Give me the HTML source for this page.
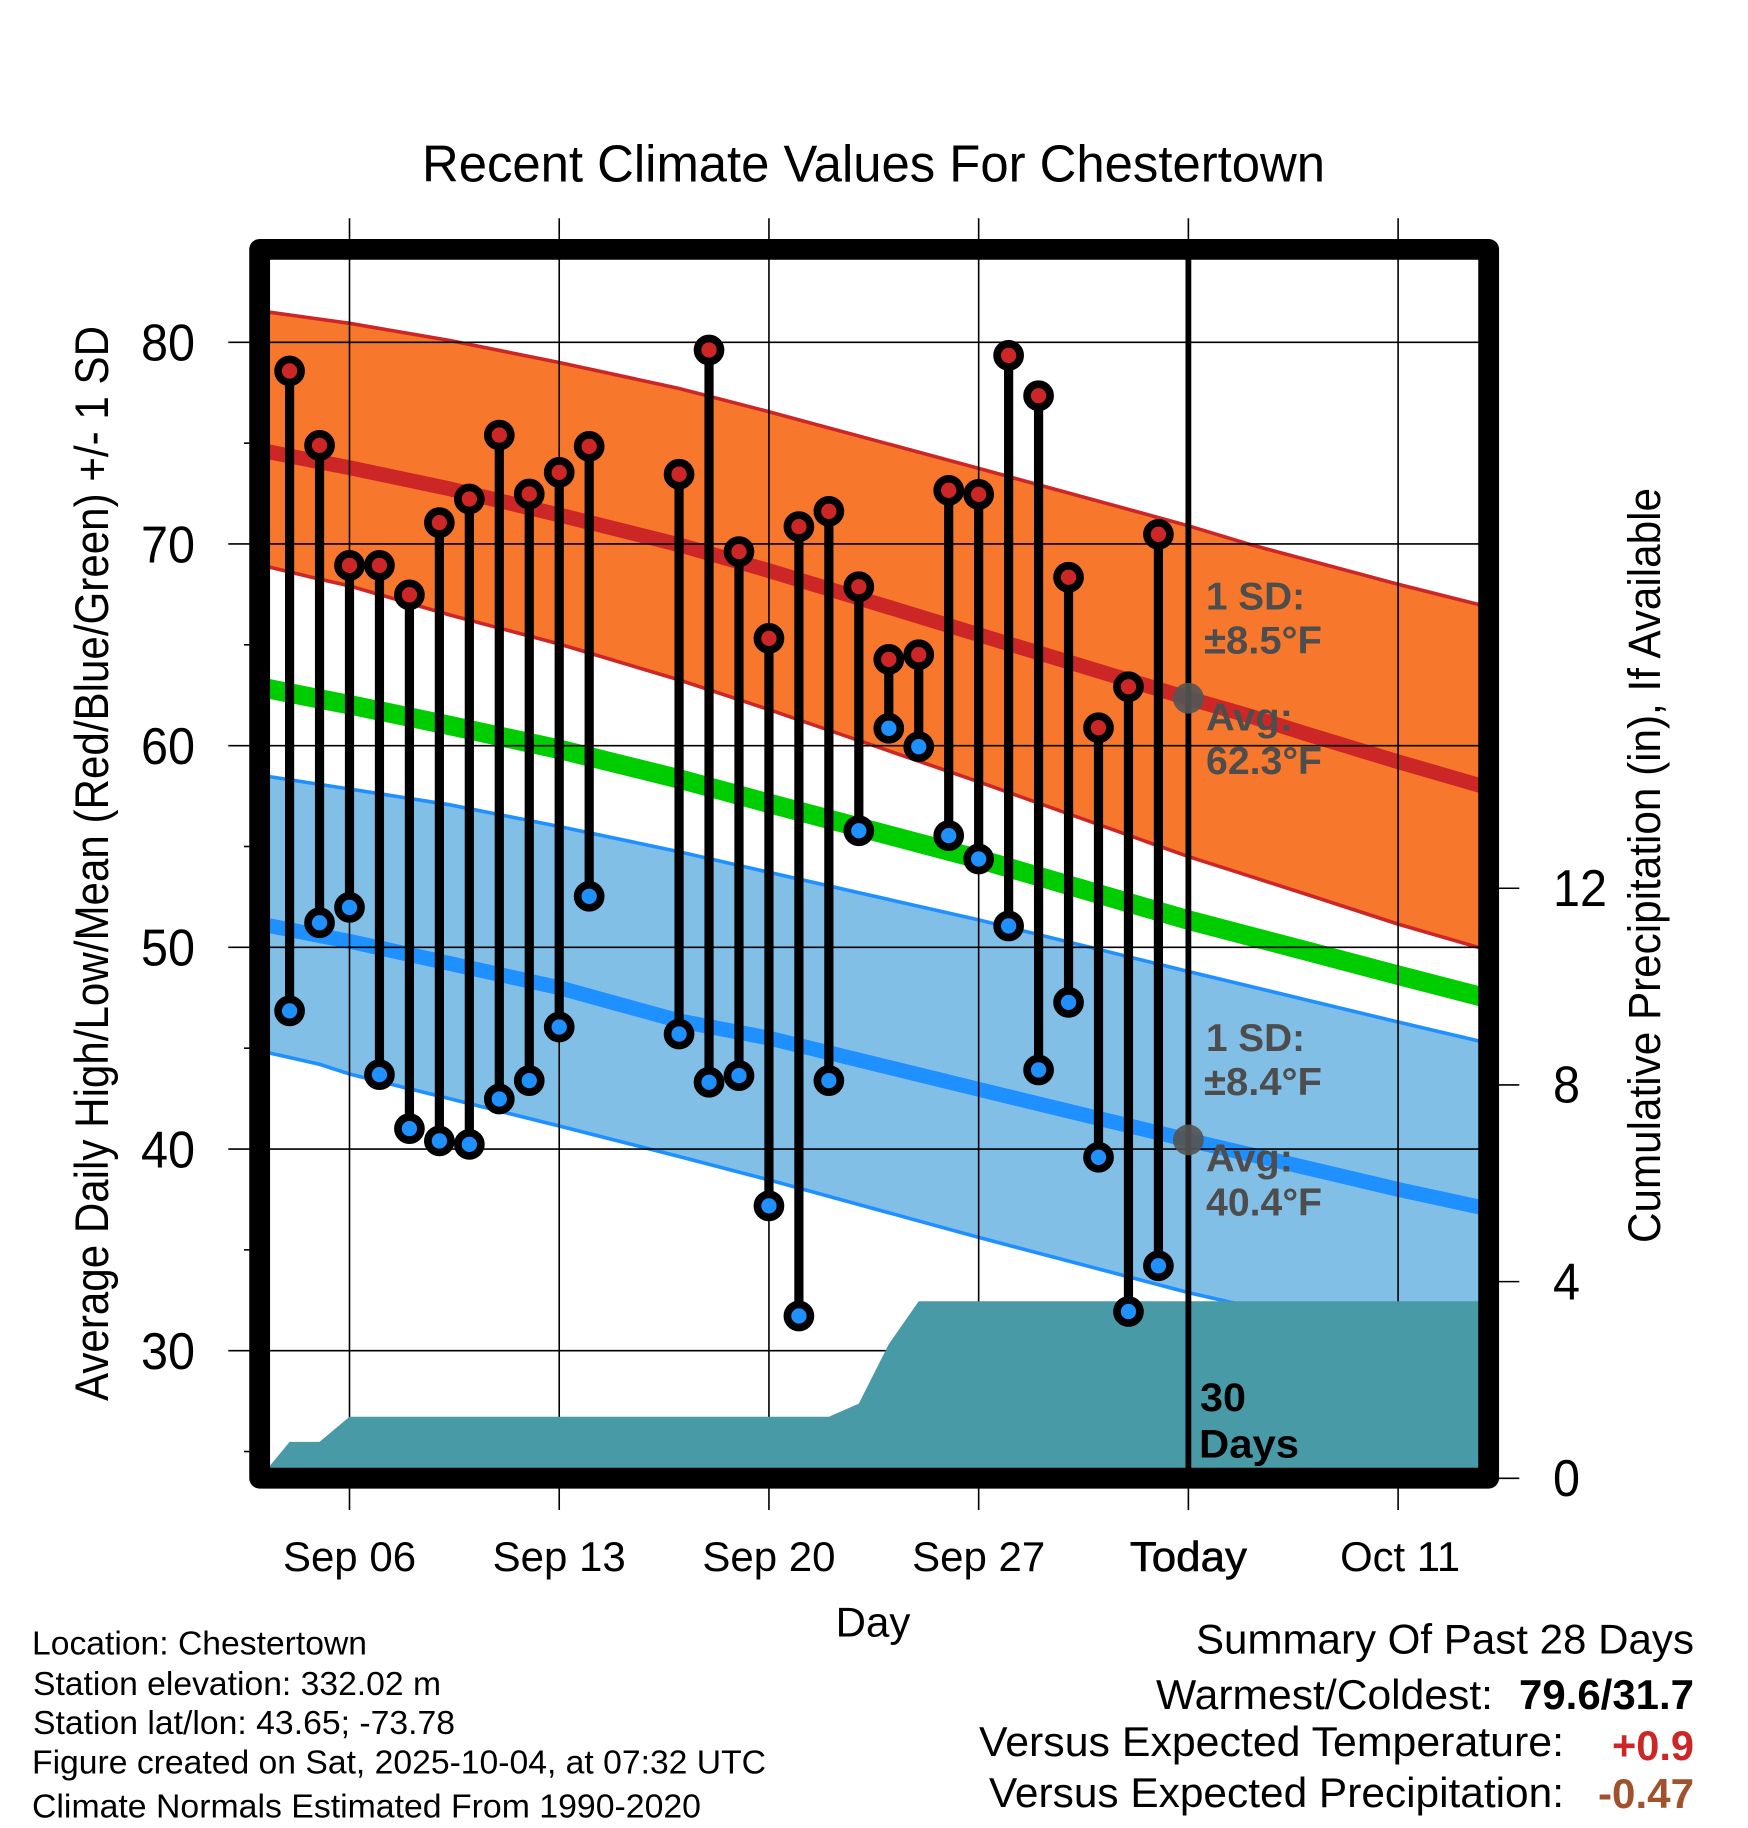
<!DOCTYPE html>
<html lang="en">
<head>
<meta charset="utf-8">
<title>Recent Climate Values For Chestertown</title>
<style>
html,body{margin:0;padding:0;background:#fff;}
svg{display:block;}
text{font-family:"Liberation Sans",Arial,sans-serif;}
.note{font-weight:bold;fill:#4d4d4d;font-size:39px;}
.foot{font-size:33.5px;fill:#000;}
.sum{font-size:42px;fill:#000;}
</style>
</head>
<body>
<svg id="chart" xmlns="http://www.w3.org/2000/svg" width="1748" height="1828" viewBox="0 0 1748 1828">
  <rect x="0" y="0" width="1748" height="1828" fill="#fff"/>
  <g id="bands"></g>
  <g id="grid"></g>
  <g id="precip"></g>
  <g id="obs"></g>
  <g id="today"></g>
  <g id="axes"></g>

  <text x="422" y="181.7" font-size="52" textLength="903" lengthAdjust="spacingAndGlyphs">Recent Climate Values For Chestertown</text>
  <text x="108" y="863.5" font-size="47" text-anchor="middle" textLength="1075" lengthAdjust="spacingAndGlyphs" transform="rotate(-90 108 863.5)">Average Daily High/Low/Mean (Red/Blue/Green) +/- 1 SD</text>
  <text x="1660" y="865.5" font-size="45" text-anchor="middle" textLength="755" lengthAdjust="spacingAndGlyphs" transform="rotate(-90 1660 865.5)">Cumulative Precipitation (in), If Available</text>
  <text x="873" y="1636.5" font-size="42" text-anchor="middle">Day</text>

  <text class="note" x="1206" y="609.3" textLength="99" lengthAdjust="spacingAndGlyphs">1 SD:</text>
  <text class="note" x="1204" y="653.3" textLength="118" lengthAdjust="spacingAndGlyphs">±8.5°F</text>
  <text class="note" x="1206" y="730.7" textLength="87" lengthAdjust="spacingAndGlyphs">Avg:</text>
  <text class="note" x="1206" y="774" textLength="116" lengthAdjust="spacingAndGlyphs">62.3°F</text>
  <text class="note" x="1206" y="1051" textLength="99" lengthAdjust="spacingAndGlyphs">1 SD:</text>
  <text class="note" x="1204" y="1095" textLength="118" lengthAdjust="spacingAndGlyphs">±8.4°F</text>
  <text class="note" x="1206" y="1171.7" textLength="87" lengthAdjust="spacingAndGlyphs">Avg:</text>
  <text class="note" x="1206" y="1215.7" textLength="116" lengthAdjust="spacingAndGlyphs">40.4°F</text>
  <text x="1200" y="1411" font-size="40" font-weight="bold" textLength="46" lengthAdjust="spacingAndGlyphs">30</text>
  <text x="1199" y="1457.7" font-size="40" font-weight="bold" textLength="100" lengthAdjust="spacingAndGlyphs">Days</text>

  <text class="foot" x="32" y="1654.3" textLength="335" lengthAdjust="spacingAndGlyphs">Location: Chestertown</text>
  <text class="foot" x="33" y="1695" textLength="408" lengthAdjust="spacingAndGlyphs">Station elevation: 332.02 m</text>
  <text class="foot" x="33" y="1734" textLength="422" lengthAdjust="spacingAndGlyphs">Station lat/lon: 43.65; -73.78</text>
  <text class="foot" x="32" y="1773.3" textLength="734" lengthAdjust="spacingAndGlyphs">Figure created on Sat, 2025-10-04, at 07:32 UTC</text>
  <text class="foot" x="32" y="1817.7" textLength="669" lengthAdjust="spacingAndGlyphs">Climate Normals Estimated From 1990-2020</text>

  <text class="sum" x="1196" y="1653.3" textLength="498" lengthAdjust="spacingAndGlyphs">Summary Of Past 28 Days</text>
  <text class="sum" x="1156" y="1709" textLength="337" lengthAdjust="spacingAndGlyphs">Warmest/Coldest:</text>
  <text class="sum" x="1519" y="1709" font-weight="bold" textLength="175" lengthAdjust="spacingAndGlyphs">79.6/31.7</text>
  <text class="sum" x="979" y="1756" textLength="585" lengthAdjust="spacingAndGlyphs">Versus Expected Temperature:</text>
  <text class="sum" x="1612" y="1760" font-weight="bold" style="fill:#cd2626" textLength="82" lengthAdjust="spacingAndGlyphs">+0.9</text>
  <text class="sum" x="989" y="1807" textLength="575" lengthAdjust="spacingAndGlyphs">Versus Expected Precipitation:</text>
  <text class="sum" x="1598" y="1808" font-weight="bold" style="fill:#a0522d" textLength="96" lengthAdjust="spacingAndGlyphs">-0.47</text>
</svg>

<script>
// Days are counted from Sep 06 = 0.
const obsDays = [-2,-1,0,1,2,3,4,5,6,7,8,9,10,11,12,13,14,15,16,17,18,19,20,21,22,23,24,25,26,27];
const highs = [78.58,74.89,68.94,68.94,67.48,71.06,72.23,75.40,72.48,73.55,74.84,null,null,73.46,79.62,69.62,65.32,70.86,71.62,67.88,64.28,64.51,72.66,72.46,79.35,77.35,68.35,60.89,62.92,70.48];
const lows = [46.85,51.22,51.98,43.69,41.01,40.40,40.23,42.48,43.39,46.05,52.53,null,null,45.70,43.31,43.64,37.18,31.72,43.39,55.78,60.86,59.95,55.54,54.38,51.06,43.92,47.27,39.59,31.94,34.21];

const normalDays = [-3,-1,0,3.35,7,11,14,21,28,30,32,35,38];
const highUpper = [81.56,81.15,80.94,80.09,79.0,77.71,76.56,73.75,70.9,70.0,69.2,68.0,66.88];
const highMean = [74.66,74.07,73.78,72.73,71.44,69.96,68.68,65.5,62.35,61.49,60.56,59.2,57.91];
const highLower = [68.97,68.26,67.92,66.48,65.04,63.26,61.79,58.21,54.5,53.55,52.6,51.15,49.86];
const lowUpper = [58.54,58.08,57.85,57.07,55.99,54.74,53.72,51.36,48.8,48.09,47.37,46.3,45.25];
const lowMean = [51.17,50.58,50.3,49.2,48.0,46.36,45.5,42.96,40.44,39.75,39.05,38.0,37.03];
const lowLower = [44.87,44.2,43.72,42.49,41.14,39.63,38.47,35.62,32.88,32.2,31.4,30.1,28.87];
const meanTemp = [62.91,62.32,62.03,61.0,59.82,58.35,57.14,54.38,51.35,50.57,49.8,48.62,47.47];

const precipDays = [-3,-2,-1,0,16,17,18,19,38];
const precipValues = [0,0.74,0.74,1.25,1.25,1.52,2.73,3.6,3.6];

const todayDay = 28;
const todayHigh = 62.35;
const todayLow = 40.45;

const xTickDays = [0,7,14,21,28,35];
const xTickLabels = ['Sep 06','Sep 13','Sep 20','Sep 27','Today','Oct 11'];
const yTicks = [30,40,50,60,70,80];
const yMinorTicks = [25,35,45,55,65,75];
const precipTicks = [0,4,8,12];

function xAt(d){ return 349.5 + d * 29.96; }
function yAt(t){ return 342.3 + (80 - t) * 20.168; }
function pAt(p){ return 1478.3 - p * 49.17; }

const NS = 'http://www.w3.org/2000/svg';
function add(parent, tag, attrs){
  const el = document.createElementNS(NS, tag);
  for (const k in attrs) el.setAttribute(k, attrs[k]);
  parent.appendChild(el);
  return el;
}
function pts(days, vals, f){
  return days.map(function(d,i){ return xAt(d).toFixed(1) + ',' + f(vals[i]).toFixed(1); });
}

const bands = document.getElementById('bands');
const grid = document.getElementById('grid');
const precip = document.getElementById('precip');
const obs = document.getElementById('obs');
const today = document.getElementById('today');
const axes = document.getElementById('axes');

function drawBand(upper, lower, fill, edge){
  const up = pts(normalDays, upper, yAt);
  const lo = pts(normalDays, lower, yAt);
  const poly = add(bands, 'polygon', {points: up.concat(lo.slice().reverse()).join(' '), fill: fill, stroke: 'none'});
  
  
  const a = add(bands, 'polyline', {points: up.join(' '), fill: 'none', stroke: edge, 'stroke-width': 3.6});
  
  
  const b = add(bands, 'polyline', {points: lo.join(' '), fill: 'none', stroke: edge, 'stroke-width': 3.6});
  
  
}
drawBand(highUpper, highLower, '#f7782c', '#cd2626');
drawBand(lowUpper, lowLower, '#82bfe7', '#1e90ff');

function drawMean(vals, color, width){
  const l = add(bands, 'polyline', {points: pts(normalDays, vals, yAt).join(' '), fill: 'none', stroke: color, 'stroke-width': width});
  
  
}
drawMean(highMean, '#cd2626', 14.8);
drawMean(meanTemp, '#00cd00', 19.5);
drawMean(lowMean, '#1e90ff', 14.8);

xTickDays.forEach(function(d){
  const l = add(grid, 'line', {x1: xAt(d), x2: xAt(d), y1: 218.3, y2: 1510, stroke: '#000', 'stroke-width': 1.6});
  
  
});
yTicks.forEach(function(t){
  const l = add(grid, 'line', {x1: 228.3, x2: 1480, y1: yAt(t), y2: yAt(t), stroke: '#000', 'stroke-width': 1.6});
  
  
});

const pPts = pts(precipDays, precipValues, pAt);
pPts.push(xAt(precipDays[precipDays.length-1]).toFixed(1) + ',' + pAt(0).toFixed(1));
const pArea = add(precip, 'polygon', {points: pPts.join(' '), fill: '#499aa7'});



obsDays.forEach(function(d,i){
  if (highs[i] === null || lows[i] === null) return;
  const s = add(obs, 'line', {x1: xAt(d), x2: xAt(d), y1: yAt(highs[i]), y2: yAt(lows[i]), stroke: '#000', 'stroke-width': 9.2});
  
  
});
obsDays.forEach(function(d,i){
  if (highs[i] === null || lows[i] === null) return;
  const hi = add(obs, 'circle', {cx: xAt(d), cy: yAt(highs[i]), r: 11.5, fill: '#cd2626', stroke: '#000', 'stroke-width': 7.7});
  
  
  const lo = add(obs, 'circle', {cx: xAt(d), cy: yAt(lows[i]), r: 11.5, fill: '#1e90ff', stroke: '#000', 'stroke-width': 7.7});
  
  
});

const tLine = add(today, 'line', {x1: xAt(todayDay), x2: xAt(todayDay), y1: 255, y2: 1475, stroke: '#000', 'stroke-width': 5.8});


const tHigh = add(today, 'circle', {cx: xAt(todayDay), cy: yAt(todayHigh), r: 15.4, fill: '#555', 'fill-opacity': 0.92});


const tLow = add(today, 'circle', {cx: xAt(todayDay), cy: yAt(todayLow), r: 15.4, fill: '#555', 'fill-opacity': 0.92});



const frame = add(axes, 'rect', {x: 259.65, y: 249.4, width: 1229, height: 1228.8, fill: 'none', stroke: '#000', 'stroke-width': 20.8, 'stroke-linejoin': 'round'});



yMinorTicks.forEach(function(t){
  const l = add(axes, 'line', {x1: 244, x2: 250, y1: yAt(t), y2: yAt(t), stroke: '#000', 'stroke-width': 1.6});
  
  
});
yTicks.forEach(function(t){
  const lab = add(axes, 'text', {x: 195, y: yAt(t) + 18.4, 'font-size': 52, 'text-anchor': 'end', textLength: 54, lengthAdjust: 'spacingAndGlyphs'});
  
  
  lab.textContent = t;
});
precipTicks.forEach(function(p){
  const l = add(axes, 'line', {x1: 1498, x2: 1519.3, y1: pAt(p), y2: pAt(p), stroke: '#000', 'stroke-width': 1.6});
  
  
  const lab = add(axes, 'text', {x: 1553, y: pAt(p) + 17.8, 'font-size': 52, textLength: String(p).length * 27, lengthAdjust: 'spacingAndGlyphs'});
  
  
  lab.textContent = p;
});
xTickDays.forEach(function(d,i){
  const isToday = xTickLabels[i] === 'Today';
  const isOct = xTickLabels[i] === 'Oct 11';
  const lab = add(axes, 'text', {x: xAt(d) + (isOct ? 2 : 0), y: 1571, 'font-size': 42, 'text-anchor': 'middle'});
  if (isToday) { lab.setAttribute('stroke', '#000'); lab.setAttribute('stroke-width', '0.6'); lab.setAttribute('textLength', '117'); lab.setAttribute('lengthAdjust', 'spacingAndGlyphs'); }
  if (isOct) { lab.setAttribute('textLength', '120'); lab.setAttribute('lengthAdjust', 'spacingAndGlyphs'); }
  
  
  lab.textContent = xTickLabels[i];
});
</script>
</body>
</html>
